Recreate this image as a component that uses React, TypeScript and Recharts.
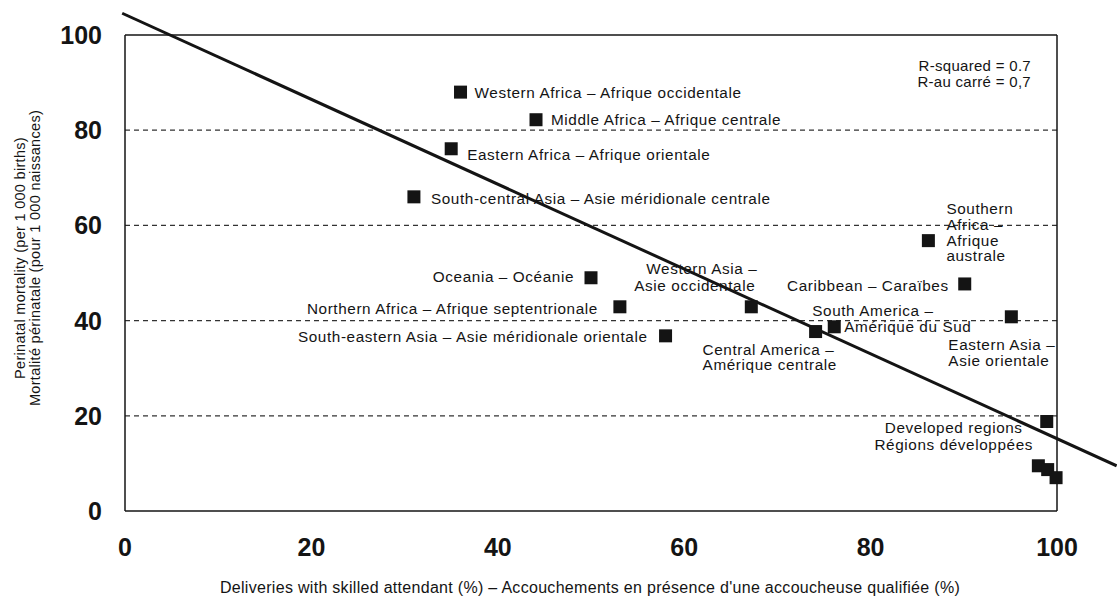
import React from "react";
import {
  ScatterChart,
  Scatter,
  XAxis,
  YAxis,
  ReferenceLine,
} from "recharts";

// regions, in the order they appear from top to bottom of the chart
const regions = [
  "Western Africa",
  "Middle Africa",
  "Eastern Africa",
  "South-central Asia",
  "Southern Africa",
  "Oceania",
  "Caribbean",
  "Northern Africa",
  "Western Asia",
  "Eastern Asia",
  "South America",
  "Central America",
  "South-eastern Asia",
  "Developed regions",
  "Developed regions 2",
  "Developed regions 3",
  "Developed regions 4",
];

// deliveries with skilled attendant (%)
const attended = [36.0, 44.1, 35.0, 31.0, 86.2, 50.0, 90.1, 53.1, 67.2, 95.1, 76.1, 74.1, 58.0, 98.9, 98.0, 99.0, 99.9];

// perinatal mortality (per 1 000 births)
const mortality = [88.0, 82.2, 76.1, 66.0, 56.8, 49.0, 47.7, 42.9, 42.9, 40.8, 38.7, 37.7, 36.8, 18.8, 9.5, 8.7, 7.0];

const labels: string[][] = [
  ["Western Africa – Afrique occidentale"],
  ["Middle Africa – Afrique centrale"],
  ["Eastern Africa – Afrique orientale"],
  ["South-central Asia – Asie méridionale centrale"],
  ["Southern", "Africa –", "Afrique", "australe"],
  ["Oceania – Océanie"],
  ["Caribbean – Caraïbes"],
  ["Northern Africa – Afrique septentrionale"],
  ["Western Asia –", "Asie occidentale"],
  ["Eastern Asia –", "Asie orientale"],
  ["South America –", "Amérique du Sud"],
  ["Central America –", "Amérique centrale"],
  ["South-eastern Asia – Asie méridionale orientale"],
  ["Developed regions", "Régions développées"],
  [],
  [],
  [],
];

const xTicks = [0, 20, 40, 60, 80, 100];
const yTicks = [0, 20, 40, 60, 80, 100];
const gridValues = [20, 40, 60, 80];

// fitted regression line
const fitIntercept = 104.3;
const fitSlope = -0.891;
const fitFrom = -0.3;
const fitTo = 106.4;

const rSquared = ["R-squared = 0.7", "R-au carré = 0,7"];

const data = regions.map((name, i) => ({
  name,
  x: attended[i],
  y: mortality[i],
  lines: labels[i],
}));

// label placement, pixel offsets from the marker centre, one entry per label line
type Place = { dx: number; dy: number; anchor: "start" | "end" | "middle" };
const placement: Record<string, Place[]> = {
  "Western Africa": [{ dx: 14, dy: 0, anchor: "start" }],
  "Middle Africa": [{ dx: 15, dy: 0, anchor: "start" }],
  "Eastern Africa": [{ dx: 16, dy: 6, anchor: "start" }],
  "South-central Asia": [{ dx: 17, dy: 2, anchor: "start" }],
  "Southern Africa": [
    { dx: 18, dy: -32, anchor: "start" },
    { dx: 18, dy: -16, anchor: "start" },
    { dx: 18, dy: 0, anchor: "start" },
    { dx: 18, dy: 15, anchor: "start" },
  ],
  Oceania: [{ dx: -17, dy: -1, anchor: "end" }],
  Caribbean: [{ dx: -16, dy: 2, anchor: "end" }],
  "Northern Africa": [{ dx: -22, dy: 2, anchor: "end" }],
  "Western Asia": [
    { dx: 6, dy: -38, anchor: "end" },
    { dx: 4, dy: -21, anchor: "end" },
  ],
  "Eastern Asia": [
    { dx: -63, dy: 28, anchor: "start" },
    { dx: -63, dy: 44, anchor: "start" },
  ],
  "South America": [
    { dx: -22, dy: -16, anchor: "start" },
    { dx: 10, dy: 0, anchor: "start" },
  ],
  "Central America": [
    { dx: -113, dy: 18, anchor: "start" },
    { dx: -113, dy: 33, anchor: "start" },
  ],
  "South-eastern Asia": [{ dx: -18, dy: 1, anchor: "end" }],
  "Developed regions": [
    { dx: -93, dy: 6, anchor: "middle" },
    { dx: -93, dy: 23, anchor: "middle" },
  ],
};

const INK = "#141414";
const FONT = "'Liberation Sans', Arial, Helvetica, sans-serif";

function SquareMarker(props: any) {
  const { cx, cy, payload } = props;
  const size = 13;
  const place = placement[payload.name] || [];
  return (
    <g>
      <rect x={cx - size / 2} y={cy - size / 2} width={size} height={size} fill={INK} />
      {payload.lines.map((line: string, i: number) => {
        const p = place[i];
        if (!p) return null;
        return (
          <text
            key={i}
            x={cx + p.dx}
            y={cy + p.dy}
            textAnchor={p.anchor}
            dominantBaseline="central"
            fontSize={15.3}
            letterSpacing={0.6}
            fontFamily={FONT}
            fill={INK}
          >
            {line}
          </text>
        );
      })}
    </g>
  );
}

function YTick(props: any) {
  const { x, y, payload } = props;
  return (
    <text
      x={x - 15}
      y={y}
      textAnchor="end"
      dominantBaseline="central"
      fontSize={25}
      fontWeight="bold"
      fontFamily={FONT}
      fill={INK}
    >
      {payload.value}
    </text>
  );
}

function XTick(props: any) {
  const { x, y, payload } = props;
  return (
    <text
      x={x}
      y={y + 28}
      textAnchor="middle"
      dominantBaseline="central"
      fontSize={25}
      fontWeight="bold"
      fontFamily={FONT}
      fill={INK}
    >
      {payload.value}
    </text>
  );
}

export default function App() {
  return (
    <div style={{ position: "absolute", left: 0, top: 0, background: "#fff" }}>
      <ScatterChart
        width={1117}
        height={596}
        margin={{ top: 35, right: 60, bottom: 0, left: 0 }}
      >
        <XAxis
          type="number"
          dataKey="x"
          domain={[0, 100]}
          ticks={xTicks}
          height={85}
          tickLine={false}
          axisLine={{ stroke: INK, strokeWidth: 1.5 }}
          tick={<XTick />}
        />
        <YAxis
          type="number"
          dataKey="y"
          domain={[0, 100]}
          ticks={yTicks}
          width={125}
          tickLine={false}
          axisLine={{ stroke: INK, strokeWidth: 1.5 }}
          tick={<YTick />}
        />
        {gridValues.map((v) => (
          <ReferenceLine key={v} y={v} stroke="#333" strokeWidth={1.2} strokeDasharray="5 4" />
        ))}
        <ReferenceLine y={100} stroke={INK} strokeWidth={1.5} />
        <ReferenceLine x={100} stroke={INK} strokeWidth={1.5} />
        <Scatter data={data} shape={<SquareMarker />} isAnimationActive={false} />
        <ReferenceLine
          segment={[
            { x: fitFrom, y: fitIntercept + fitSlope * fitFrom },
            { x: fitTo, y: fitIntercept + fitSlope * fitTo },
          ]}
          ifOverflow="visible"
          stroke={INK}
          strokeWidth={3}
        />
        <text x={1031} y={65} textAnchor="end" dominantBaseline="central" fontSize={15} letterSpacing={0.3} fontFamily={FONT} fill={INK}>
          {rSquared[0]}
        </text>
        <text x={1031} y={81} textAnchor="end" dominantBaseline="central" fontSize={15} letterSpacing={0.3} fontFamily={FONT} fill={INK}>
          {rSquared[1]}
        </text>
        <text
          x={590}
          y={587}
          textAnchor="middle"
          dominantBaseline="central"
          fontSize={16}
          letterSpacing={0.3}
          fontFamily={FONT}
          fill={INK}
        >
          Deliveries with skilled attendant (%) – Accouchements en présence d'une accoucheuse qualifiée (%)
        </text>
        <g transform="translate(20 258) rotate(-90)">
          <text x={0} y={0} textAnchor="middle" dominantBaseline="central" fontSize={14.5} letterSpacing={0.3} fontFamily={FONT} fill={INK}>
            Perinatal mortality (per 1 000 births)
          </text>
          <text x={0} y={15} textAnchor="middle" dominantBaseline="central" fontSize={14.5} letterSpacing={0.3} fontFamily={FONT} fill={INK}>
            Mortalité périnatale (pour 1 000 naissances)
          </text>
        </g>
      </ScatterChart>
    </div>
  );
}
